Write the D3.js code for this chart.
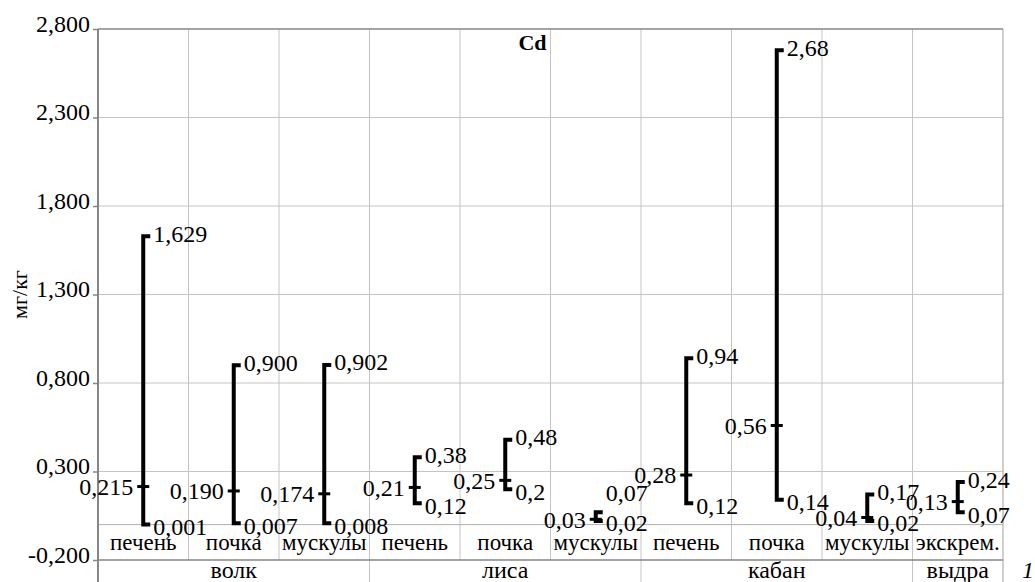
<!DOCTYPE html>
<html>
<head>
<meta charset="utf-8">
<script src="https://cdn.jsdelivr.net/npm/d3@7"></script>
</head>
<body style="margin:0; background:#fff">
<div id="chart"></div>
<script>
"use strict";

//
// Data
//
var groups = ["волк", "лиса", "кабан", "выдра"];
var categories = ["печень", "почка", "мускулы", "печень", "почка", "мускулы", "печень", "почка", "мускулы", "экскрем."];
var categoryGroup = ["волк", "волк", "волк", "лиса", "лиса", "лиса", "кабан", "кабан", "кабан", "выдра"];
var maxValues = [1.629, 0.900, 0.902, 0.38, 0.48, 0.07, 0.94, 2.68, 0.17, 0.24];
var midValues = [0.215, 0.190, 0.174, 0.21, 0.25, 0.03, 0.28, 0.56, 0.04, 0.13];
var minValues = [0.001, 0.007, 0.008, 0.12, 0.2, 0.02, 0.12, 0.14, 0.02, 0.07];
// fixed decimals per category, null = general format
var labelDecimals = [3, 3, 3, null, null, null, null, null, null, null];
var yTicks = [-0.2, 0.3, 0.8, 1.3, 1.8, 2.3, 2.8];

//
// Setup Variables
//
var canvasWidth = 1035;
var canvasHeight = 582;
var margin = { left: 98, right: 32, top: 29 };
var plotBottom = 560;
var axisGray = "#868686";
var gridGray = "#c4c4c4";
var serif = "Liberation Serif";
var fontSize = 24;

var locale = d3.formatLocale({ decimal: ",", thousands: " ", grouping: [3], currency: ["", ""], minus: "-" });

var x = d3.scaleBand()
	.domain(d3.range(categories.length))
	.range([margin.left, canvasWidth - margin.right]);

var y = d3.scaleLinear()
	.domain([yTicks[0], yTicks[yTicks.length - 1]])
	.range([plotBottom, margin.top]);

function fmt(v, i) {
	return labelDecimals[i] === null ? String(v).replace(".", ",") : locale.format("." + labelDecimals[i] + "f")(v);
}

function serifText(sel, size) {
	sel.attr("font-family", serif)
		.style("font-family", serif)
		.attr("font-size", size || fontSize)
		.style("font-size", (size || fontSize) + "px")
		.attr("fill", "#000");
}

var rows = categories.map(function(c, i) {
	return { i: i, name: c, group: categoryGroup[i], max: maxValues[i], mid: midValues[i], min: minValues[i] };
});

//
// Draw Canvas
//
var svg = d3.select("#chart")
	.append("svg")
		.attr("width", canvasWidth)
		.attr("height", canvasHeight);

//
// Grid
//
var grid = svg.append("g").attr("id", "grid");

grid.selectAll(".hgrid")
	.data(yTicks.slice(1, -1))
  .enter().append("line")
	.attr("x1", x.range()[0]).attr("x2", x.range()[1])
	.attr("y1", function(d) { return y(d); })
	.attr("y2", function(d) { return y(d); })
	.attr("stroke", gridGray);

// category boundaries
grid.selectAll(".vgrid")
	.data(d3.range(1, categories.length))
  .enter().append("line")
	.attr("x1", function(d) { return x(d); })
	.attr("x2", function(d) { return x(d); })
	.attr("y1", margin.top)
	.attr("y2", function(d) { return categoryGroup[d] !== categoryGroup[d - 1] ? canvasHeight : plotBottom; })
	.attr("stroke", gridGray);

// zero line (category axis)
grid.append("line")
	.attr("x1", x.range()[0]).attr("x2", x.range()[1])
	.attr("y1", y(0)).attr("y2", y(0))
	.attr("stroke", "#b0b0b0");

// frame
grid.append("line")
	.attr("x1", x.range()[0]).attr("x2", x.range()[1])
	.attr("y1", margin.top).attr("y2", margin.top)
	.attr("stroke", axisGray).attr("stroke-width", 1.5);
grid.append("line")
	.attr("x1", x.range()[0]).attr("x2", x.range()[1])
	.attr("y1", plotBottom).attr("y2", plotBottom)
	.attr("stroke", axisGray).attr("stroke-width", 1.5);
grid.append("line")
	.attr("x1", x.range()[1]).attr("x2", x.range()[1])
	.attr("y1", margin.top).attr("y2", canvasHeight)
	.attr("stroke", "#a0a0a0");

//
// Y-Axis
//
var yAxis = d3.axisLeft(y)
	.tickValues(yTicks)
	.tickSize(5)
	.tickPadding(3)
	.tickFormat(locale.format(".3f"));

var yg = svg.append("g")
	.attr("id", "y_axis")
	.attr("transform", "translate(" + margin.left + ",0)")
	.call(yAxis)
	.attr("font-family", serif)
	.attr("font-size", fontSize);
yg.select(".domain").remove();
yg.selectAll(".tick line").attr("stroke", axisGray).attr("stroke-width", 1.5);
yg.selectAll(".tick text")
	.call(serifText)
	.attr("dy", "0.1em");
yg.append("line")
	.attr("x1", 0).attr("x2", 0)
	.attr("y1", margin.top).attr("y2", canvasHeight)
	.attr("stroke", axisGray).attr("stroke-width", 2);

svg.append("text")
	.attr("transform", "translate(27," + ((margin.top + plotBottom) / 2) + ") rotate(-90)")
	.attr("text-anchor", "middle")
	.call(serifText, 22)
	.text("мг/кг");

//
// Category labels
//
svg.selectAll(".cat")
	.data(rows)
  .enter().append("text")
	.attr("x", function(d) { return x(d.i) + x.bandwidth() / 2; })
	.attr("y", (y(0) + plotBottom) / 2)
	.attr("dy", "0.32em")
	.attr("text-anchor", "middle")
	.call(serifText, 23)
	.text(function(d) { return d.name; });

var groupSpans = groups.map(function(g) {
	var idx = d3.range(categories.length).filter(function(i) { return categoryGroup[i] === g; });
	return { name: g, x0: x(idx[0]), x1: x(idx[idx.length - 1]) + x.bandwidth() };
});

svg.selectAll(".grp")
	.data(groupSpans)
  .enter().append("text")
	.attr("x", function(d) { return (d.x0 + d.x1) / 2; })
	.attr("y", (plotBottom + canvasHeight) / 2 - 1)
	.attr("dy", "0.32em")
	.attr("text-anchor", "middle")
	.call(serifText)
	.text(function(d) { return d.name; });

//
// Title
//
svg.append("text")
	.attr("x", x(5) - 4)
	.attr("y", 50)
	.attr("text-anchor", "end")
	.call(serifText, 22)
	.attr("font-weight", "bold")
	.style("font-weight", "bold")
	.text("Cd");

//
// High-low ranges
//
var marks = svg.selectAll(".range")
	.data(rows)
  .enter().append("g")
	.attr("class", "range")
	.attr("transform", function(d) { return "translate(" + (x(d.i) + x.bandwidth() / 2) + ",0)"; });

marks.append("path")
	.attr("fill", "none")
	.attr("stroke", "#000")
	.attr("stroke-width", 4)
	.attr("d", function(d) {
		return "M7," + y(d.max) + "H0V" + y(d.min) + "H7";
	});

marks.append("line")
	.attr("x1", -6).attr("x2", 6)
	.attr("y1", function(d) { return y(d.mid); })
	.attr("y2", function(d) { return y(d.mid); })
	.attr("stroke", "#000")
	.attr("stroke-width", 3);

// keep max/min labels apart when the range is short
function minLabelY(d) { return y(d.min) + 2; }
function maxLabelY(d) { return Math.min(y(d.max) - 3, minLabelY(d) - 30); }

marks.append("text")
	.attr("x", 10)
	.attr("y", maxLabelY)
	.attr("dy", "0.35em")
	.call(serifText)
	.text(function(d) { return fmt(d.max, d.i); });

marks.append("text")
	.attr("x", 10)
	.attr("y", minLabelY)
	.attr("dy", "0.35em")
	.call(serifText)
	.text(function(d) { return fmt(d.min, d.i); });

marks.append("text")
	.attr("x", -10)
	.attr("y", function(d) { return y(d.mid); })
	.attr("dy", "0.35em")
	.attr("text-anchor", "end")
	.call(serifText)
	.text(function(d) { return fmt(d.mid, d.i); });

//
// Figure number
//
svg.append("text")
	.attr("x", 1022)
	.attr("y", 578)
	.call(serifText)
	.attr("font-style", "italic")
	.style("font-style", "italic")
	.text("1");
</script>
</body>
</html>
